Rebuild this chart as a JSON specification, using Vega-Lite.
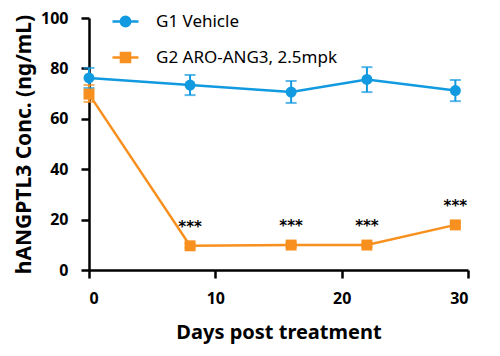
{
  "$schema": "https://vega.github.io/schema/vega-lite/v6.json",
  "width": 379,
  "height": 252,
  "autosize": {"type": "none"},
  "padding": {"left": 89, "top": 18, "right": 32, "bottom": 86},
  "background": "white",
  "config": {
    "font": "Noto Sans",
    "view": {"stroke": null},
    "axis": {"grid": false, "domainColor": "black", "domainWidth": 2.5, "tickColor": "black", "tickWidth": 2.5, "tickSize": 8, "labelFont": "Noto Sans", "labelFontWeight": "bold", "labelFontSize": 16, "labelColor": "black", "titleFont": "Noto Sans", "titleFontWeight": "bold", "titleFontSize": 20, "titleColor": "black"}
  },
  "data": {
    "values": [
      {"group": "G1 Vehicle", "day": 0, "conc": 76.2, "lo": 72.2, "hi": 80.2, "sig": ""},
      {"group": "G1 Vehicle", "day": 8, "conc": 73.4, "lo": 69.4, "hi": 77.4, "sig": ""},
      {"group": "G1 Vehicle", "day": 16, "conc": 70.6, "lo": 66.3, "hi": 75.0, "sig": ""},
      {"group": "G1 Vehicle", "day": 22, "conc": 75.6, "lo": 70.6, "hi": 80.5, "sig": ""},
      {"group": "G1 Vehicle", "day": 29, "conc": 71.2, "lo": 67.0, "hi": 75.4, "sig": ""},
      {"group": "G2 ARO-ANG3, 2.5mpk", "day": 0, "conc": 69.8, "lo": 66.7, "hi": 73.4, "sig": ""},
      {"group": "G2 ARO-ANG3, 2.5mpk", "day": 8, "conc": 9.6, "lo": 8.8, "hi": 10.4, "sig": "***"},
      {"group": "G2 ARO-ANG3, 2.5mpk", "day": 16, "conc": 9.9, "lo": 9.1, "hi": 10.7, "sig": "***"},
      {"group": "G2 ARO-ANG3, 2.5mpk", "day": 22, "conc": 9.9, "lo": 9.1, "hi": 10.7, "sig": "***"},
      {"group": "G2 ARO-ANG3, 2.5mpk", "day": 29, "conc": 17.9, "lo": 17.0, "hi": 18.8, "sig": "***"}
    ]
  },
  "encoding": {
    "x": {"field": "day", "type": "quantitative", "scale": {"domain": [0, 30], "nice": false, "zero": false},
      "axis": {"title": "Days post treatment", "values": [0, 10, 20, 30], "labelPadding": 12, "titlePadding": 16}},
    "color": {"field": "group", "type": "nominal",
      "scale": {"domain": ["G1 Vehicle", "G2 ARO-ANG3, 2.5mpk"], "range": ["#129ae0", "#f7901e"]},
      "legend": {"title": null, "orient": "none", "legendX": 22, "legendY": -11, "direction": "vertical",
        "labelFont": "Noto Sans", "labelFontSize": 17, "labelColor": "black", "labelOffset": 16, "rowPadding": 11, "labelLimit": 400,
        "symbolSize": 676, "symbolStrokeWidth": 2.5,
        "encode": {"symbols": {"update": {
          "shape": {"signal": "datum.label === 'G1 Vehicle' ? 'M-1,0L1,0M-0.36,0A0.36,0.36,0,1,1,0.36,0A0.36,0.36,0,1,1,-0.36,0Z' : 'M-1,0L1,0M-0.35,-0.35L0.35,-0.35L0.35,0.35L-0.35,0.35Z'"},
          "fill": {"scale": "color", "field": "label"},
          "fillOpacity": {"value": 1},
          "stroke": {"scale": "color", "field": "label"},
          "strokeWidth": {"value": 2.5},
          "opacity": {"value": 1}
        }}}}
    }
  },
  "layer": [
    {
      "mark": {"type": "rule", "strokeWidth": 2},
      "encoding": {
        "y": {"field": "lo", "type": "quantitative"},
        "y2": {"field": "hi"}
      }
    },
    {
      "mark": {"type": "tick", "orient": "horizontal", "size": 11, "thickness": 2},
      "encoding": {
        "y": {"field": "lo", "type": "quantitative"}
      }
    },
    {
      "mark": {"type": "tick", "orient": "horizontal", "size": 11, "thickness": 2},
      "encoding": {
        "y": {"field": "hi", "type": "quantitative"}
      }
    },
    {
      "mark": {"type": "line", "strokeWidth": 2.5},
      "encoding": {
        "y": {"field": "conc", "type": "quantitative", "scale": {"domain": [0, 100], "nice": false},
          "axis": {"title": "hANGPTL3 Conc. (ng/mL)", "values": [0, 20, 40, 60, 80, 100], "labelPadding": 13, "titlePadding": 6, "titleFontSize": 21}}
      }
    },
    {
      "mark": {"type": "point", "filled": true, "opacity": 1, "size": 120},
      "encoding": {
        "y": {"field": "conc", "type": "quantitative"},
        "shape": {"condition": {"test": "datum.group === 'G1 Vehicle'", "value": "circle"}, "value": "square"}
      }
    },
    {
      "mark": {"type": "text", "dy": -19, "fontSize": 15, "fontWeight": "bold", "baseline": "middle", "font": "DejaVu Sans"},
      "encoding": {
        "y": {"field": "conc", "type": "quantitative"},
        "text": {"field": "sig"},
        "color": {"value": "black"}
      }
    }
  ]
}
